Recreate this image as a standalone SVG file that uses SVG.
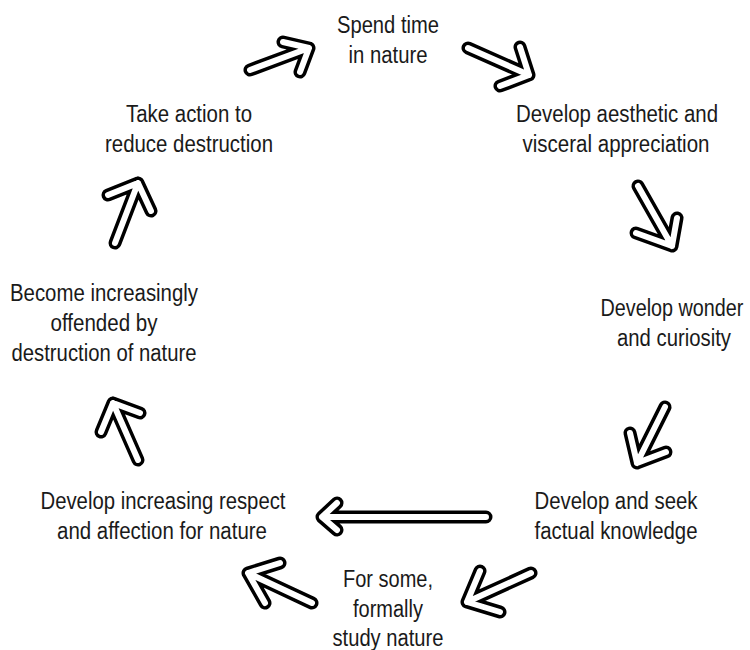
<svg xmlns="http://www.w3.org/2000/svg" xmlns:xlink="http://www.w3.org/1999/xlink" width="750" height="650" viewBox="0 0 750 650">
<style>
  text { font-family: "Liberation Sans", Arial, sans-serif; font-size: 23px; fill: #1a1a1a; text-anchor: middle; }
  .ao { fill: none; stroke: #000; stroke-width: 13; stroke-linecap: round; stroke-linejoin: round; }
  .ai { fill: none; stroke: #fff; stroke-width: 6; stroke-linecap: round; stroke-linejoin: round; }
</style>
<defs>
  <path id="a1" d="M283,42 L309,48 L300,72 M250,70 L309,48"/>
  <path id="a2" d="M520,47 L529,75 L500,86 M468,48 L529,75"/>
  <path id="a3" d="M677,218 L672,246 L636,233 M638,186 L672,246"/>
  <path id="a4" d="M630,433 L637,463 L666,452 M665,407 L637,463"/>
  <path id="a5" d="M337,503 L322,517 L337,530 M486,517 L322,517"/>
  <path id="a6" d="M101,432 L113,403 L140,413 M138,460 L113,403"/>
  <path id="a7" d="M108,195 L138,183 L151,211 M115,243 L138,183"/>
  <path id="a8" d="M280,563 L248,573 L265,603 M312,603 L248,573"/>
  <path id="a9" d="M480,571 L467,602 L500,612 M531,573 L467,602"/>
</defs>
<rect width="750" height="650" fill="#fff"/>
<g id="connectors">
  <use xlink:href="#a1" class="ao"/><use xlink:href="#a1" class="ai"/>
  <use xlink:href="#a2" class="ao"/><use xlink:href="#a2" class="ai"/>
  <use xlink:href="#a3" class="ao"/><use xlink:href="#a3" class="ai"/>
  <use xlink:href="#a4" class="ao"/><use xlink:href="#a4" class="ai"/>
  <use xlink:href="#a5" class="ao"/><use xlink:href="#a5" class="ai"/>
  <use xlink:href="#a6" class="ao"/><use xlink:href="#a6" class="ai"/>
  <use xlink:href="#a7" class="ao"/><use xlink:href="#a7" class="ai"/>
  <use xlink:href="#a8" class="ao"/><use xlink:href="#a8" class="ai"/>
  <use xlink:href="#a9" class="ao"/><use xlink:href="#a9" class="ai"/>
</g>
<g id="node-spend">
  <text x="388" y="33" textLength="102" lengthAdjust="spacingAndGlyphs">Spend time</text>
  <text x="388" y="63" textLength="79" lengthAdjust="spacingAndGlyphs">in nature</text>
</g>
<g id="node-aesthetic">
  <text x="617" y="122" textLength="202" lengthAdjust="spacingAndGlyphs">Develop aesthetic and</text>
  <text x="616" y="152" textLength="187" lengthAdjust="spacingAndGlyphs">visceral appreciation</text>
</g>
<g id="node-wonder">
  <text transform="translate(672,316) scale(0.86,1)" x="0" y="0">Develop wonder</text>
  <text x="674" y="346" textLength="114" lengthAdjust="spacingAndGlyphs">and curiosity</text>
</g>
<g id="node-knowledge">
  <text x="616" y="509" textLength="163" lengthAdjust="spacingAndGlyphs">Develop and seek</text>
  <text x="616" y="539" textLength="163" lengthAdjust="spacingAndGlyphs">factual knowledge</text>
</g>
<g id="node-study">
  <text x="388" y="587" textLength="90" lengthAdjust="spacingAndGlyphs">For some,</text>
  <text x="388" y="617" textLength="70" lengthAdjust="spacingAndGlyphs">formally</text>
  <text x="388" y="646" textLength="111" lengthAdjust="spacingAndGlyphs">study nature</text>
</g>
<g id="node-respect">
  <text x="163" y="509" textLength="245" lengthAdjust="spacingAndGlyphs">Develop increasing respect</text>
  <text x="162" y="539" textLength="210" lengthAdjust="spacingAndGlyphs">and affection for nature</text>
</g>
<g id="node-offended">
  <text x="104" y="301" textLength="188" lengthAdjust="spacingAndGlyphs">Become increasingly</text>
  <text x="104" y="331" textLength="107" lengthAdjust="spacingAndGlyphs">offended by</text>
  <text x="104" y="361" textLength="185" lengthAdjust="spacingAndGlyphs">destruction of nature</text>
</g>
<g id="node-action">
  <text x="189" y="122" textLength="126" lengthAdjust="spacingAndGlyphs">Take action to</text>
  <text x="189" y="152" textLength="168" lengthAdjust="spacingAndGlyphs">reduce destruction</text>
</g>
</svg>
